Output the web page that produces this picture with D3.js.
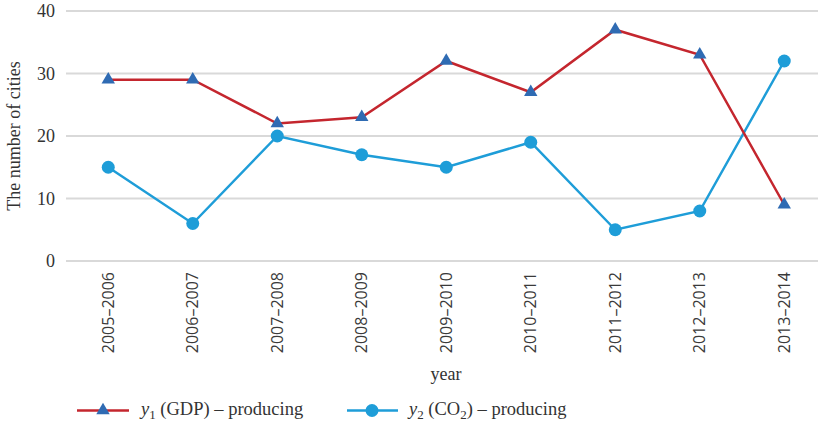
<!DOCTYPE html>
<html>
<head>
<meta charset="utf-8">
<script src="https://cdn.jsdelivr.net/npm/d3@7"></script>
<style>
  body { margin: 0; background: #fff; }
  svg { display: block; }
  .serif { font-family: "Liberation Serif", "DejaVu Serif", serif; fill: #333; }
  .sans { font-family: "Open Sans", "Noto Sans", sans-serif; fill: #3a3a3a; }
</style>
</head>
<body>
<svg id="chart" width="818" height="424"></svg>
<script>
const years = ["2005–2006", "2006–2007", "2007–2008", "2008–2009", "2009–2010",
               "2010–2011", "2011–2012", "2012–2013", "2013–2014"];
const gdpProducing = [29, 29, 22, 23, 32, 27, 37, 33, 9];
const co2Producing = [15, 6, 20, 17, 15, 19, 5, 8, 32];
const yTicks = [0, 10, 20, 30, 40];

const redLine = "#c4262e";
const triFill = "#2f6bb3";
const blueLine = "#1e9dd8";

const svg = d3.select("#chart");

const x = d3.scaleBand().domain(years).range([66, 826.5]);
const y = d3.scaleLinear().domain([0, 40]).range([261, 11]);
const cx = d => x(d) + x.bandwidth() / 2;

// horizontal gridlines
svg.append("g").selectAll("line").data(yTicks).join("line")
  .attr("x1", 66).attr("x2", 818)
  .attr("y1", d => y(d)).attr("y2", d => y(d))
  .attr("stroke", "#d9d9d9").attr("stroke-width", 2);

// y tick labels
svg.append("g").selectAll("text").data(yTicks).join("text")
  .attr("class", "serif")
  .attr("x", 55).attr("y", d => y(d))
  .attr("dy", "0.35em")
  .attr("text-anchor", "end")
  .style("font-size", "18px")
  .text(d => d);

// y axis title
svg.append("text").attr("class", "serif")
  .attr("transform", "translate(20,136) rotate(-90)")
  .attr("text-anchor", "middle")
  .style("font-size", "18px")
  .text("The number of cities");

// x tick labels, rotated
svg.append("g").selectAll("text").data(years).join("text")
  .attr("class", "sans")
  .attr("transform", d => `translate(${cx(d)},272) rotate(-90)`)
  .attr("text-anchor", "end")
  .attr("dy", "0.35em")
  .style("font-size", "16px")
  .text(d => d);

// x axis title
svg.append("text").attr("class", "serif")
  .attr("x", 446).attr("y", 380)
  .attr("text-anchor", "middle")
  .style("font-size", "18px")
  .text("year");

const line = d3.line().x((d, i) => cx(years[i])).y(d => y(d));
const tri = d3.symbol().type(d3.symbolTriangle).size(78);

// y2 (CO2) series
svg.append("path").datum(co2Producing)
  .attr("d", line).attr("fill", "none")
  .attr("stroke", blueLine).attr("stroke-width", 2.5);
svg.append("g").selectAll("circle").data(co2Producing).join("circle")
  .attr("cx", (d, i) => cx(years[i])).attr("cy", d => y(d))
  .attr("r", 6.5).attr("fill", blueLine);

// y1 (GDP) series
svg.append("path").datum(gdpProducing)
  .attr("d", line).attr("fill", "none")
  .attr("stroke", redLine).attr("stroke-width", 2.5);
svg.append("g").selectAll("path.tri").data(gdpProducing).join("path")
  .attr("class", "tri")
  .attr("transform", (d, i) => `translate(${cx(years[i])},${y(d)})`)
  .attr("d", tri).attr("fill", triFill);

// legend
const lg = svg.append("g");
lg.append("line").attr("x1", 77).attr("x2", 129).attr("y1", 410.5).attr("y2", 410.5)
  .attr("stroke", redLine).attr("stroke-width", 2.5);
lg.append("path").attr("transform", "translate(103,410.5)").attr("d", tri).attr("fill", triFill);
const t1 = lg.append("text").attr("class", "serif").attr("x", 141).attr("y", 415)
  .style("font-size", "18.5px");
t1.append("tspan").style("font-style", "italic").text("y");
t1.append("tspan").attr("dy", 4).style("font-size", "13px").text("1");
t1.append("tspan").attr("dy", -4).text(" (GDP) – producing");

lg.append("line").attr("x1", 347).attr("x2", 398).attr("y1", 410.5).attr("y2", 410.5)
  .attr("stroke", blueLine).attr("stroke-width", 2.5);
lg.append("circle").attr("cx", 372).attr("cy", 410.5).attr("r", 6.5).attr("fill", blueLine);
const t2 = lg.append("text").attr("class", "serif").attr("x", 409).attr("y", 415)
  .style("font-size", "18.5px");
t2.append("tspan").style("font-style", "italic").text("y");
t2.append("tspan").attr("dy", 4).style("font-size", "13px").text("2");
t2.append("tspan").attr("dy", -4).text(" (CO");
t2.append("tspan").attr("dy", 4).style("font-size", "13px").text("2");
t2.append("tspan").attr("dy", -4).text(") – producing");
</script>
</body>
</html>
